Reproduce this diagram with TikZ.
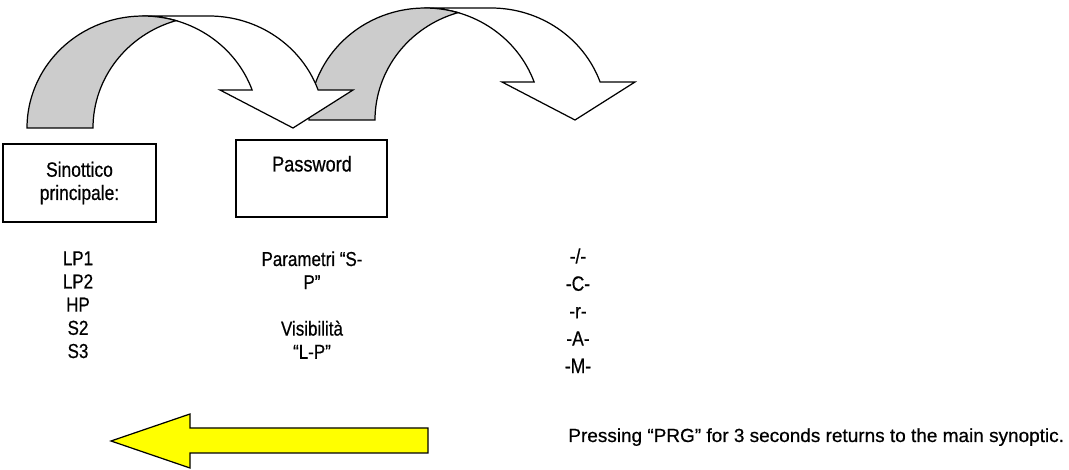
\documentclass[tikz,border=0pt]{standalone}
\usepackage{fontspec}
\setmainfont{Liberation Sans}[FakeStretch=0.84,FakeBold=0.6]
\newfontfamily\notefont{Liberation Sans}[FakeStretch=1.0,FakeBold=0.6]
\definecolor{bandgray}{RGB}{204,204,204}
\definecolor{arrowyellow}{RGB}{255,255,0}
\begin{document}
\begin{tikzpicture}[x=0.02cm,y=0.02cm,
  outl/.style={draw=black,line width=0.7pt,line join=miter},
  box/.style={draw=black,line width=0.8pt,inner sep=0pt},
  txt/.style={inner sep=0pt,font=\fontsize{11.5}{13.2}\selectfont},
  txtwide/.style={inner sep=0pt,font=\fontsize{11.8}{15.6}\selectfont},
  curvarrow/.pic={
    \draw[outl,fill=white] (143,454) -- (209,454)
      arc[start angle=90,end angle=19.83,x radius=116,y radius=112]
      -- (353,380) -- (293,342) -- (220,380) -- (252.13,380)
      arc[start angle=19.83,end angle=90,x radius=116,y radius=112] -- cycle;
    \draw[outl,fill=bandgray] (27,342)
      arc[start angle=180,end angle=73.47,x radius=116,y radius=112]
      arc[start angle=106.53,end angle=180,x radius=116,y radius=112] -- cycle;
  }]
\useasboundingbox (0,0) rectangle (1069,470);
% curved arrows (second one first, first one on top)
\pic at (282,8) {curvarrow};
\pic at (0,0) {curvarrow};
% boxes
\node[box,minimum width=3.06cm,minimum height=1.56cm,align=center,
      font=\fontsize{11.8}{13.2}\selectfont] (sin) at (79.5,287) {Sinottico\\principale:};
\node[box,minimum width=3.02cm,minimum height=1.54cm] (pw) at (311.5,291.5) {};
\node[txt,anchor=base,font=\fontsize{12.3}{14}\selectfont] (pwt) at (312,298.5) {Password};
% lists
\node[txt,align=center,anchor=north] (lp) at (78,219) {LP1\\LP2\\HP\\S2\\S3};
\node[txt,align=center,anchor=north] (par) at (312,219) {Parametri “S-\\P”\\[13.2pt]Visibilità\\“L-P”};
\node[txtwide,align=center,anchor=north] (modes) at (578,222) {-/-\\-C-\\-r-\\-A-\\-M-};
% yellow return arrow
\draw[outl,fill=arrowyellow] (111,29) -- (190,56) -- (190,42) -- (428,42)
  -- (428,17) -- (190,17) -- (190,2) -- cycle;
\node[anchor=base west,inner sep=0pt,font=\notefont\fontsize{10.8}{13}\selectfont] (note)
  at (568,28) {Pressing “PRG” for 3 seconds returns to the main synoptic.};
\end{tikzpicture}
\end{document}
